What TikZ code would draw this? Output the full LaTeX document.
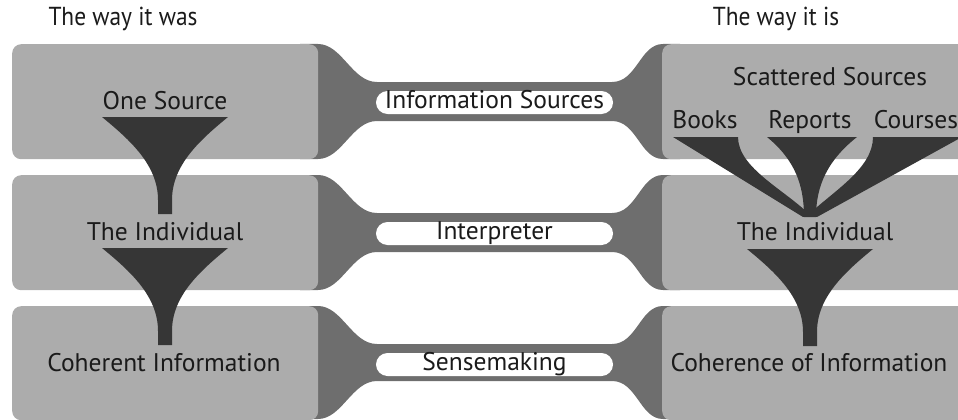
\documentclass[tikz,border=0pt]{standalone}
\usepackage{fontspec}
\setmainfont{PT Sans}
\newfontfamily\titlefont[FakeStretch=0.9]{PT Sans}
\definecolor{boxgray}{HTML}{ACACAC}
\definecolor{neckgray}{HTML}{6E6E6E}
\definecolor{funnelgray}{HTML}{363636}
\definecolor{inktext}{HTML}{1A1A1A}
\begin{document}
\begin{tikzpicture}[x=1pt,y=-1pt,
  panel/.style={fill=boxgray, rounded corners=9pt, inner sep=0pt, minimum height=115pt, anchor=north west},
  pill/.style={fill=white, rounded corners=11.5pt, minimum width=237pt, minimum height=23pt, inner sep=0pt, text height=15pt, text depth=4pt, font=\fontsize{25.5}{28}\selectfont, text=inktext},
  lbl/.style={text=inktext, font=\fontsize{25.5}{30}\selectfont, inner sep=0pt, anchor=base},
  ttl/.style={text=inktext, font=\titlefont\fontsize{26}{30}\selectfont, inner sep=0pt, anchor=base},
  neck/.style={fill=neckgray},
  funnelfill/.style={fill=funnelgray},
  funnel/.pic={\fill[funnelfill] (-63,0) -- (63,0) .. controls (35,23) and (7,48) .. (7,83) -- (7,97) -- (-7,97) -- (-7,83) .. controls (-7,48) and (-35,23) .. (-63,0) -- cycle;}]
\useasboundingbox (0,0) rectangle (958,420);
% necks
\foreach \T/\B in {44/159,175/290,306/419}{
  \fill[neck] (300,\T) -- (318,\T) .. controls (342,\T) and (352,\T+38) .. (377,\T+38) -- (612,\T+38) .. controls (637,\T+38) and (640,\T) .. (663,\T) -- (680,\T) -- (680,\B) -- (663,\B) .. controls (640,\B) and (637,\B-38) .. (612,\B-38) -- (377,\B-38) .. controls (352,\B-38) and (342,\B) .. (318,\B) -- (300,\B) -- cycle;
}
% panels
\node[panel, minimum width=306pt] (L1) at (12,44) {};
\node[panel, minimum width=306pt] (L2) at (12,175) {};
\node[panel, minimum width=306pt, minimum height=114pt] (L3) at (12,306) {};
\node[panel, minimum width=320pt] (R1) at (662,44) {};
\node[panel, minimum width=320pt] (R2) at (662,175) {};
\node[panel, minimum width=320pt, minimum height=114pt] (R3) at (662,306) {};
% pills
\node[pill] (P1) at (494.5,102.5) {Information Sources};
\node[pill] (P2) at (494.5,233.5) {Interpreter};
\node[pill] (P3) at (494.5,364.5) {Sensemaking};
% titles
\node[ttl] (T1) at (123,26) {The way it was};
\node[ttl] (T2) at (776,26) {The way it is};
% labels
\node[lbl] (oneSrc) at (165,109) {One Source};
\node[lbl] (indL) at (165,240) {The Individual};
\node[lbl] (cohL) at (164,371) {Coherent Information};
\node[lbl] (scat) at (830,85) {Scattered Sources};
\node[lbl] (books) at (705,128) {Books};
\node[lbl] (reports) at (810,128) {Reports};
\node[lbl] (courses) at (916,128) {Courses};
\node[lbl] (indR) at (815,240) {The Individual};
\node[lbl] (cohR) at (809,371) {Coherence of Information};
% funnels
\pic at (165,117) {funnel};
\pic at (165,248) {funnel};
\pic at (810,249) {funnel};
% fan of scattered sources
\fill[funnelfill] (673,137) -- (738,137) .. controls (738,168) and (785,190) .. (810,215) -- (803,217) -- cycle;
\fill[funnelfill] (767,137) -- (857,137) .. controls (828,160) and (816,185) .. (816,217) -- (804,217) .. controls (804,185) and (795,160) .. (767,137) -- cycle;
\fill[funnelfill] (873,137) -- (962,137) -- (817,217) -- (808,215) .. controls (835,190) and (873,168) .. (873,137) -- cycle;
\end{tikzpicture}
\end{document}
